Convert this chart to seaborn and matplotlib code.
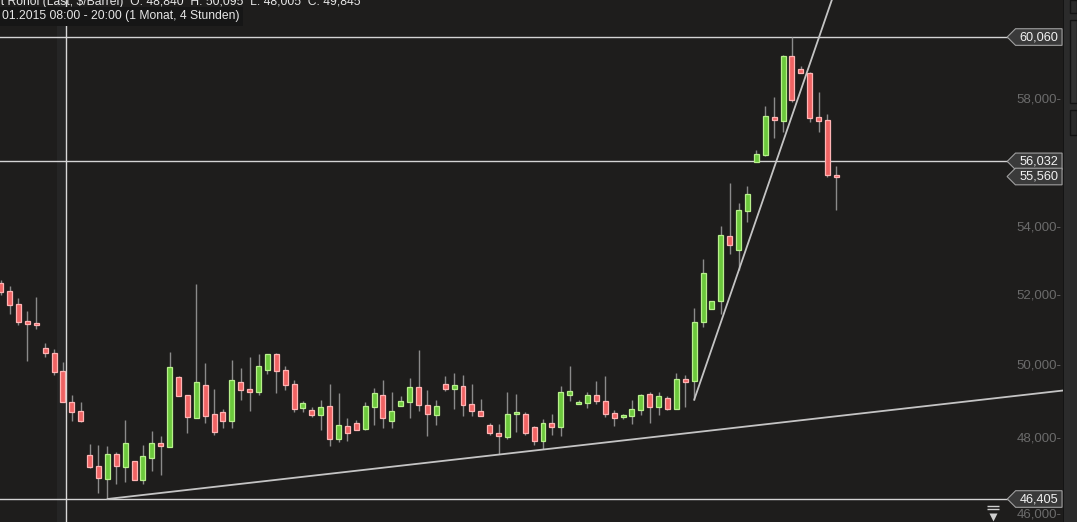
import numpy as np
import matplotlib
matplotlib.use('Agg')
import matplotlib.pyplot as plt
import seaborn as sns
from matplotlib.path import Path
from matplotlib.patches import Rectangle
from matplotlib.ticker import NullLocator

# 4-hour candles, one month
opens = [52345, 52120, 51745, 51245, 51195, 50480, 50345, 49845, 48985, 48740,
         47560, 47270, 46935, 47585, 47250, 47395, 46910, 47490, 47880, 47780,
         49675, 49170, 48560, 49445, 48650, 48705, 48480, 49530, 49335, 49270,
         49865, 50310, 49865, 49475, 48830, 48760, 48640, 48870, 47995, 48330,
         48410, 48265, 48860, 49170, 48480, 48870, 48995, 49390, 48895, 48640,
         49475, 49355, 49420, 48925, 48735, 48355, 48140, 48050, 48670, 48650,
         48300, 47940, 48410, 48315, 49190, 48940, 48970, 49170, 49005, 48680,
         48585, 48615, 48775, 49200, 48860, 49090, 48805, 49615, 49555, 51215,
         51590, 51820, 53735, 53335, 54490, 56020, 56240, 57430, 57320, 59420,
         58990, 58855, 57430, 57340, 55600]
highs = [52440, 52265, 51915, 51540, 51945, 50630, 50450, 50095, 49170, 48985,
         47860, 47835, 47800, 47640, 48500, 47395, 47825, 48200, 48075, 50375,
         49705, 49180, 52325, 50065, 49345, 48790, 50150, 49925, 50235, 50320,
         50320, 50345, 49975, 49585, 49015, 48850, 49035, 49475, 49225, 48550,
         48500, 48985, 49370, 49585, 49260, 49145, 49640, 50430, 49310, 49035,
         49695, 49780, 49725, 49475, 49060, 48410, 48380, 49255, 49200, 48705,
         48330, 48515, 48650, 49420, 49985, 49040, 49260, 49565, 49705, 48770,
         48650, 49040, 49200, 49255, 49255, 49145, 49790, 49725, 51630, 53060,
         51820, 54040, 55360, 54745, 55270, 56390, 57790, 58085, 59450, 60060,
         59095, 58890, 58245, 57535, 55885]
lows = [52005, 51465, 51140, 50130, 51035, 50245, 49730, 48990, 48480, 48450,
        47225, 46570, 46405, 46805, 46850, 46910, 46805, 47135, 47040, 47780,
        49160, 48155, 48560, 48425, 48100, 48290, 48290, 49050, 48750, 49190,
        49770, 49245, 49325, 48725, 48725, 48585, 48235, 47800, 47905, 47940,
        48235, 48235, 48370, 48290, 48290, 48870, 48560, 48750, 48075, 48370,
        49300, 48805, 48615, 48615, 48615, 48100, 47595, 47995, 48180, 48100,
        47835, 47725, 48100, 48075, 49025, 48940, 48830, 48940, 48585, 48345,
        48535, 48400, 48640, 48425, 48640, 48760, 48805, 48860, 49045, 51090,
        51590, 51465, 53215, 52735, 54175, 56020, 56200, 56780, 56970, 57930,
        58855, 57290, 56970, 55555, 54540]
closes = [52100, 51725, 51235, 51175, 51150, 50340, 49825, 48995, 48725, 48480,
          47250, 46960, 47585, 47275, 47880, 46910, 47535, 47880, 47805, 49945,
          49160, 48585, 49530, 48615, 48180, 48480, 49585, 49325, 49270, 49975,
          50310, 49850, 49465, 48805, 48950, 48640, 48845, 47995, 48355, 48155,
          48235, 48870, 49225, 48560, 48735, 49005, 49390, 48915, 48670, 48870,
          49355, 49445, 48915, 48750, 48615, 48155, 48075, 48650, 48715, 48155,
          47940, 48410, 48315, 49255, 49280, 48985, 49170, 49025, 48670, 48560,
          48625, 48790, 49170, 48860, 49145, 48805, 49615, 49530, 51215, 52635,
          51820, 53765, 53485, 54520, 55010, 56255, 57460, 57350, 59420, 57995,
          58855, 57415, 57320, 55615, 55560]

level_lines = [60060, 56032, 46405]
last_price = 55560
# 56,000 and 60,000 sit under the price tags and are not shown
price_ticks = [46000, 48000, 50000, 52000, 54000, 58000]

# drawn trendlines: (candle number, price)
support_line = ([12, 120], [46405, 49317])
rally_line = ([78, 94], [49045, 61770])
crosshair_at = 7.35

header_1 = "Brent Rohöl (Last, $/Barrel)  O: 48,840  H: 50,095  L: 48,005  C: 49,845"
header_2 = "01.2015 08:00 - 20:00 (1 Monat, 4 Stunden)"

BG = '#1e1d1c'
UP_FILL, UP_EDGE = '#6cc83c', '#b8f08c'
DN_FILL, DN_EDGE = '#ef6363', '#ffb4b4'


def tag_box(x0, y0, width, height, mutation_size):
    # price tag with a pointed left side
    pad = 0.3 * mutation_size
    x0, y0 = x0 - pad, y0 - pad * 0.6
    x1, y1 = x0 + width + 2 * pad, y0 + height + 1.2 * pad
    tip = (y1 - y0) / 2
    return Path([(x0, y0), (x1, y0), (x1, y1), (x0, y1),
                 (x0 - tip, (y0 + y1) / 2), (x0, y0)], closed=True)


sns.set_theme(style='dark', rc={'axes.facecolor': BG, 'figure.facecolor': BG})
plt.rcParams['font.family'] = ['Liberation Sans', 'DejaVu Sans']

fig = plt.figure(figsize=(10.77, 5.22), dpi=100)
ax = fig.add_axes([0, 0, 1063 / 1077, 1])
ax.set_facecolor(BG)
for s in ax.spines.values():
    s.set_visible(False)

o = np.array(opens)
c = np.array(closes)
x = np.arange(len(opens))
up = c >= o

ax.axvspan(crosshair_at - 1.02, crosshair_at, color='#252525', lw=0, zorder=0)
ax.vlines(x, lows, highs, color='#8a8a8a', lw=1, zorder=2)
ax.bar(x, np.abs(c - o), bottom=np.minimum(o, c), width=0.56,
       color=np.where(up, UP_FILL, DN_FILL), edgecolor=np.where(up, UP_EDGE, DN_EDGE),
       linewidth=0.9, zorder=3)

ax.hlines(level_lines, -1, 113.5, color='#d4d4d4', lw=1, zorder=1)
ax.axvline(crosshair_at, color='#d8d8d8', lw=1, zorder=4)

sns.lineplot(x=support_line[0], y=support_line[1], ax=ax, color='#c4c4c4', lw=1.3, zorder=4)
sns.lineplot(x=rally_line[0], y=rally_line[1], ax=ax, color='#c4c4c4', lw=1.3, zorder=4)

ax.set_yscale('log')
ax.set_ylim(45813, 61315)
ax.set_xlim(-0.079, 119.49)
ax.yaxis.set_major_locator(NullLocator())
ax.yaxis.set_minor_locator(NullLocator())
ax.xaxis.set_major_locator(NullLocator())
ax.set_xlabel('')
ax.set_ylabel('')

tr = ax.get_yaxis_transform()
for t in price_ticks:
    ax.text(0.9985, t, f'{t:,}-', transform=tr, ha='right', va='center',
            color='#6b6b6b', fontsize=9.5, zorder=5)
for p in level_lines + [last_price]:
    ax.text(0.9955, p, f'{p:,}', transform=tr, ha='right', va='center',
            color='#f2f2f2', fontsize=9.2, zorder=6,
            bbox=dict(boxstyle=tag_box, fc='#3a3a3a', ec='#a0a0a0', lw=0.8))

# scroll-down marker in the lower right corner
ax.plot([0.934], [0.009], marker='v', ms=6, color='#cfcfcf', mec='none',
        transform=ax.transAxes, clip_on=False, zorder=6)
ax.plot([0.934, 0.934], [0.024, 0.031], marker='_', ms=9, mew=1, ls='none',
        color='#cfcfcf', transform=ax.transAxes, zorder=6)

fig.text(-25 / 1077, 1 - 4.5 / 522, header_1, va='baseline', ha='left',
         fontsize=8.7, color='#e6e6e6')
fig.text(2 / 1077, 1 - 19.5 / 522, header_2, va='baseline', ha='left',
         fontsize=8.7, color='#e6e6e6',
         bbox=dict(boxstyle='square,pad=0.25', fc='#161616', ec='none'))

# scrollbar strip on the right
side = fig.add_axes([1063 / 1077, 0, 14 / 1077, 1])
side.set_facecolor('#2b2b2b')
side.set_xlim(0, 14)
side.set_ylim(522, 0)
side.set_xticks([])
side.set_yticks([])
for s in side.spines.values():
    s.set_visible(False)
side.add_patch(Rectangle((7, 0), 7, 13, fill=False, ec='#141414', lw=1))
side.add_patch(Rectangle((7, 20), 7, 83, fc='#333333', ec='#141414', lw=1))
side.add_patch(Rectangle((7, 110), 7, 25, fill=False, ec='#141414', lw=1))
side.add_patch(Rectangle((0, 0), 1.2, 522, fc='#141414', ec='none'))

fig.savefig('out.png', dpi=100, facecolor=BG)
